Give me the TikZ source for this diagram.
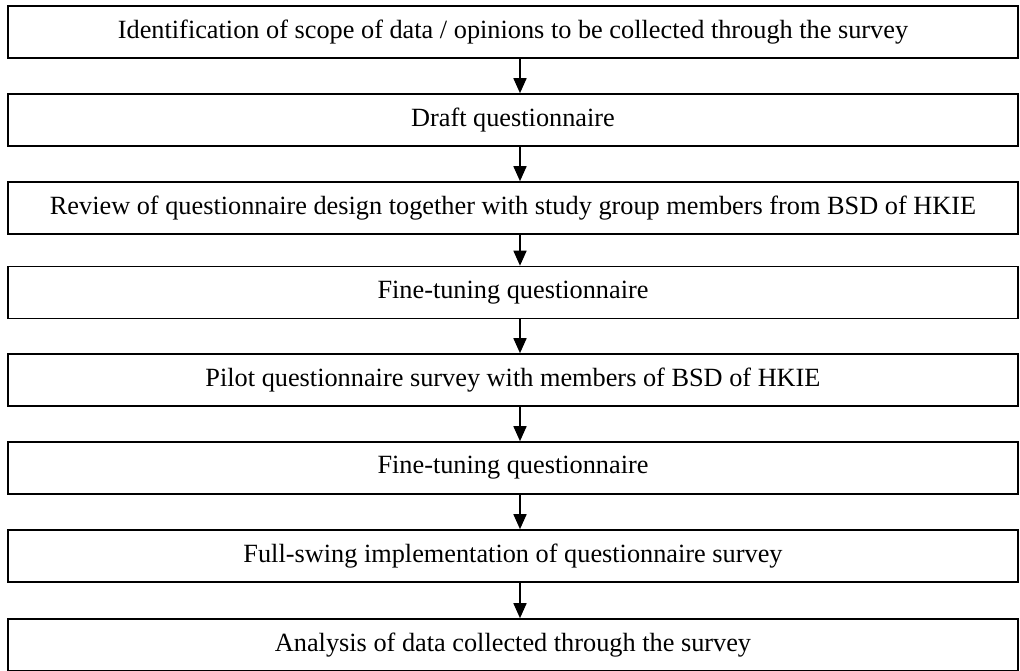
\documentclass[tikz,border=0pt]{standalone}
\usepackage{fontspec}
\setmainfont{Liberation Serif}
\usetikzlibrary{arrows.meta}
\begin{document}
\begin{tikzpicture}[x=1pt,y=-1pt,
  stepbox/.style={draw=black, line width=1.6pt, minimum width=1010pt, minimum height=52pt,
    inner sep=0pt, font=\fontsize{26.3}{28}\selectfont},
  flow/.style={line width=1.6pt, -{Triangle[length=15pt,width=13pt]}}]
\useasboundingbox (0,0) rectangle (1020,670);
\node[stepbox] (s1) at (513,32) {Identification of scope of data / opinions to be collected through the survey};
\node[stepbox] (s2) at (513,120) {Draft questionnaire};
\node[stepbox] (s3) at (513,208) {Review of questionnaire design together with study group members from BSD of HKIE};
\node[stepbox] (s4) at (513,292.5) {Fine-tuning questionnaire};
\node[stepbox] (s5) at (513,380) {Pilot questionnaire survey with members of BSD of HKIE};
\node[stepbox] (s6) at (513,468) {Fine-tuning questionnaire};
\node[stepbox] (s7) at (513,556) {Full-swing implementation of questionnaire survey};
\node[stepbox] (s8) at (513,645) {Analysis of data collected through the survey};
\foreach \a/\b in {s1/s2,s2/s3,s3/s4,s4/s5,s5/s6,s6/s7,s7/s8}
  \draw[flow] ([xshift=7pt]\a.south) -- ([xshift=7pt]\b.north);
\end{tikzpicture}
\end{document}
